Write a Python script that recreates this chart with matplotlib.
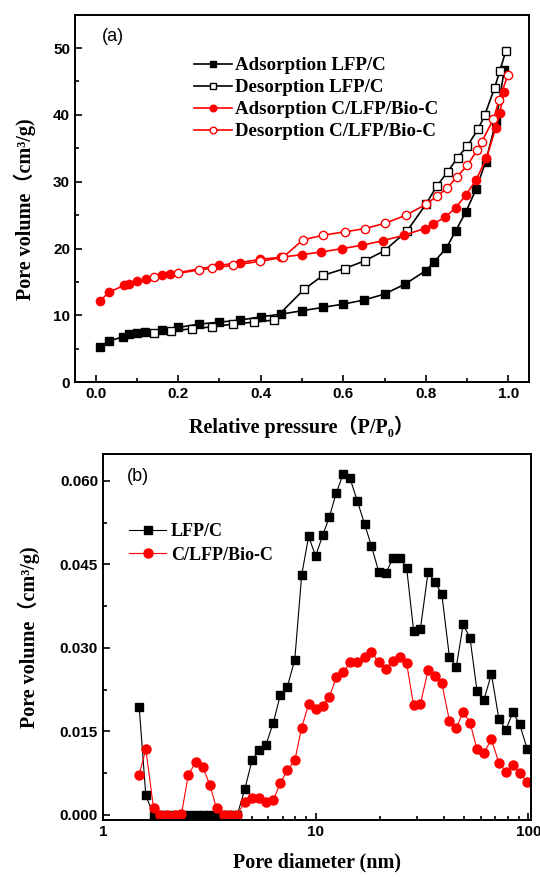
import numpy as np
import matplotlib
matplotlib.use('Agg')
import matplotlib.pyplot as plt
from matplotlib.ticker import MultipleLocator, FixedLocator, FuncFormatter, LogLocator, NullFormatter

# (a) N2 isotherms
ads_lfp_x = [0.011, 0.033, 0.067, 0.082, 0.10, 0.12, 0.16, 0.20, 0.25, 0.30, 0.35, 0.40, 0.45, 0.50,
             0.55, 0.60, 0.65, 0.70, 0.75, 0.80, 0.82, 0.85, 0.872, 0.897, 0.922, 0.945, 0.97, 0.99]
ads_lfp_y = [5.3, 6.2, 6.8, 7.2, 7.3, 7.5, 7.8, 8.2, 8.7, 9.0, 9.3, 9.8, 10.2, 10.7,
             11.2, 11.7, 12.3, 13.2, 14.7, 16.7, 18.0, 20.1, 22.6, 25.5, 28.9, 33.0, 39.0, 46.7]
des_lfp_x = [0.994, 0.979, 0.967, 0.943, 0.927, 0.901, 0.877, 0.853, 0.826, 0.80, 0.754, 0.70,
             0.653, 0.603, 0.551, 0.505, 0.431, 0.383, 0.333, 0.283, 0.233, 0.183, 0.141]
des_lfp_y = [49.6, 46.5, 44.1, 40.0, 37.9, 35.4, 33.6, 31.5, 29.3, 26.6, 22.6, 19.7,
             18.2, 17.0, 16.0, 13.9, 9.3, 9.0, 8.7, 8.3, 8.0, 7.7, 7.4]
ads_bio_x = [0.011, 0.033, 0.069, 0.082, 0.10, 0.121, 0.161, 0.18, 0.30, 0.349, 0.399, 0.448, 0.50,
             0.547, 0.597, 0.646, 0.697, 0.747, 0.797, 0.818, 0.847, 0.872, 0.897, 0.922, 0.947,
             0.969, 0.979, 0.99]
ads_bio_y = [12.2, 13.5, 14.5, 14.7, 15.1, 15.4, 16.0, 16.2, 17.5, 17.9, 18.4, 18.7, 19.1,
             19.5, 20.0, 20.5, 21.2, 22.0, 23.0, 23.7, 24.7, 26.1, 28.0, 30.3, 33.5,
             38.0, 40.3, 43.4]
des_bio_x = [0.999, 0.978, 0.964, 0.935, 0.925, 0.901, 0.875, 0.851, 0.826, 0.80, 0.752, 0.702,
             0.653, 0.603, 0.551, 0.502, 0.454, 0.399, 0.333, 0.283, 0.25, 0.20, 0.141]
des_bio_y = [46.0, 42.3, 39.4, 35.9, 34.8, 32.5, 30.7, 29.0, 27.8, 26.6, 25.0, 23.8,
             23.0, 22.5, 22.0, 21.3, 18.7, 18.1, 17.5, 17.1, 16.8, 16.3, 15.7]

# (b) pore size distribution
diam = [1.48, 1.59, 1.73, 1.85, 2.01, 2.17, 2.34, 2.52, 2.74, 2.95, 3.18, 3.42, 3.69, 3.97,
        4.28, 4.65, 5.02, 5.42, 5.84, 6.33, 6.82, 7.35, 7.98, 8.60, 9.27, 10.0, 10.8, 11.6,
        12.5, 13.5, 14.5, 15.7, 17.0, 18.3, 19.8, 21.4, 23.1, 24.9, 26.8, 28.9, 31.1, 33.8,
        36.4, 39.2, 42.6, 45.9, 49.4, 53.2, 57.4, 61.8, 67.1, 72.8, 78.5, 84.6, 91.1, 98.9]
psd_lfp = [0.0194, 0.0035, 0, 0, 0, 0, 0, 0, 0, 0, 0, 0, 0, 0,
           0, 0.0047, 0.0098, 0.0117, 0.0126, 0.0166, 0.0215, 0.0229, 0.0279, 0.0431, 0.0500, 0.0465, 0.0502, 0.0535,
           0.0578, 0.0613, 0.0605, 0.0564, 0.0522, 0.0483, 0.0437, 0.0434, 0.0461, 0.0462, 0.0443, 0.0331, 0.0334, 0.0436,
           0.0418, 0.0397, 0.0283, 0.0266, 0.0342, 0.0318, 0.0223, 0.0206, 0.0253, 0.0172, 0.0153, 0.0184, 0.0163, 0.0118]
psd_bio = [0.0072, 0.0118, 0.0012, 0, 0, 0, 0.0002, 0.0072, 0.0096, 0.0086, 0.0054, 0.0012, 0, 0,
           0, 0.0024, 0.0030, 0.0031, 0.0024, 0.0027, 0.0057, 0.0080, 0.0098, 0.0157, 0.0199, 0.0190, 0.0196, 0.0212,
           0.0247, 0.0256, 0.0274, 0.0275, 0.0283, 0.0293, 0.0274, 0.0262, 0.0277, 0.0283, 0.0272, 0.0197, 0.0199, 0.0260,
           0.0249, 0.0237, 0.0169, 0.0156, 0.0185, 0.0166, 0.0118, 0.0111, 0.0136, 0.0093, 0.0078, 0.0090, 0.0076, 0.0059]

serif = ['Liberation Serif', 'Noto Sans CJK SC', 'DejaVu Serif']
tickfont = {'family': 'Liberation Sans', 'weight': 'bold', 'size': 11}

fig = plt.figure(figsize=(5.4, 8.77), dpi=100)
ax1 = fig.add_axes([0.1389, 0.5641, 0.8407, 0.4192])
ax2 = fig.add_axes([0.1907, 0.0650, 0.7926, 0.4173])

def style(ax):
    for s in ax.spines.values():
        s.set_linewidth(1.4)
    ax.tick_params(which='both', direction='in', top=False, right=False, width=1.2)
    ax.tick_params(which='major', length=5)
    ax.tick_params(which='minor', length=3)
    for lab in ax.get_xticklabels() + ax.get_yticklabels():
        lab.set_fontproperties(tickfont)

# ---- (a)
ax1.plot(ads_lfp_x, ads_lfp_y, '-s', color='black', lw=1.2, ms=5.5, label='Adsorption LFP/C')
ax1.plot(des_lfp_x, des_lfp_y, '-s', color='black', mfc='white', mec='black', lw=1.2, ms=5.5,
         label='Desorption LFP/C')
ax1.plot(ads_bio_x, ads_bio_y, '-o', color='red', lw=1.2, ms=6, label='Adsorption C/LFP/Bio-C')
ax1.plot(des_bio_x, des_bio_y, '-o', color='red', mfc='white', mec='red', lw=1.2, ms=6,
         label='Desorption C/LFP/Bio-C')
ax1.set_xlim(-0.05, 1.05)
ax1.set_ylim(0, 55)
ax1.xaxis.set_major_locator(MultipleLocator(0.2))
ax1.xaxis.set_minor_locator(MultipleLocator(0.1))
ax1.yaxis.set_major_locator(MultipleLocator(10))
ax1.yaxis.set_minor_locator(MultipleLocator(5))
ax1.xaxis.set_major_formatter(FuncFormatter(lambda v, p: f'{v:.1f}'))
style(ax1)
ax1.set_xlabel('Relative pressure（P/P₀）', family=serif, weight='bold', fontsize=14.5)
ax1.set_ylabel('Pore volume（cm³/g)', family=serif, weight='bold', fontsize=14.5)
ax1.xaxis.set_label_coords(0.5, -0.092)
ax1.yaxis.set_label_coords(-0.085, 0.47)
ax1.text(0.06, 0.94, '(a)', transform=ax1.transAxes, fontsize=13, family='Liberation Sans',
         va='center')
ax1.legend(loc='upper left', bbox_to_anchor=(0.245, 0.905), frameon=False, handlelength=2.0,
           handletextpad=0.2, labelspacing=0.25, borderaxespad=0, markerscale=0.8,
           prop={'family': 'Liberation Serif', 'weight': 'bold', 'size': 13.6})

# ---- (b)
ax2.plot(diam, psd_lfp, '-s', color='black', lw=0.8, ms=6, label='LFP/C')
ax2.plot(diam, psd_bio, '-o', color='red', lw=0.8, ms=6.5, label='C/LFP/Bio-C')
ax2.set_xscale('log')
ax2.set_xlim(1, 103)
ax2.set_ylim(-0.0009, 0.0648)
ax2.yaxis.set_major_locator(MultipleLocator(0.015))
ax2.yaxis.set_minor_locator(MultipleLocator(0.0075))
ax2.yaxis.set_major_formatter(FuncFormatter(lambda v, p: f'{v:.3f}'))
ax2.xaxis.set_major_locator(FixedLocator([1, 10, 100]))
ax2.xaxis.set_major_formatter(FuncFormatter(lambda v, p: f'{v:g}'))
ax2.xaxis.set_minor_locator(LogLocator(base=10, subs=np.arange(2, 10)))
ax2.xaxis.set_minor_formatter(NullFormatter())
style(ax2)
ax2.set_xlabel('Pore diameter (nm)', family=serif, weight='bold', fontsize=14.5)
ax2.set_ylabel('Pore volume（cm³/g)', family=serif, weight='bold', fontsize=14.5)
ax2.xaxis.set_label_coords(0.5, -0.09)
ax2.yaxis.set_label_coords(-0.146, 0.5)
ax2.text(0.057, 0.938, '(b)', transform=ax2.transAxes, fontsize=13, family='Liberation Sans',
         va='center')
ax2.legend(loc='upper left', bbox_to_anchor=(0.045, 0.83), frameon=False, handlelength=2.0,
           handletextpad=0.3, labelspacing=0.35, borderaxespad=0,
           prop={'family': 'Liberation Serif', 'weight': 'bold', 'size': 13})

fig.savefig('out.png', dpi=100)
